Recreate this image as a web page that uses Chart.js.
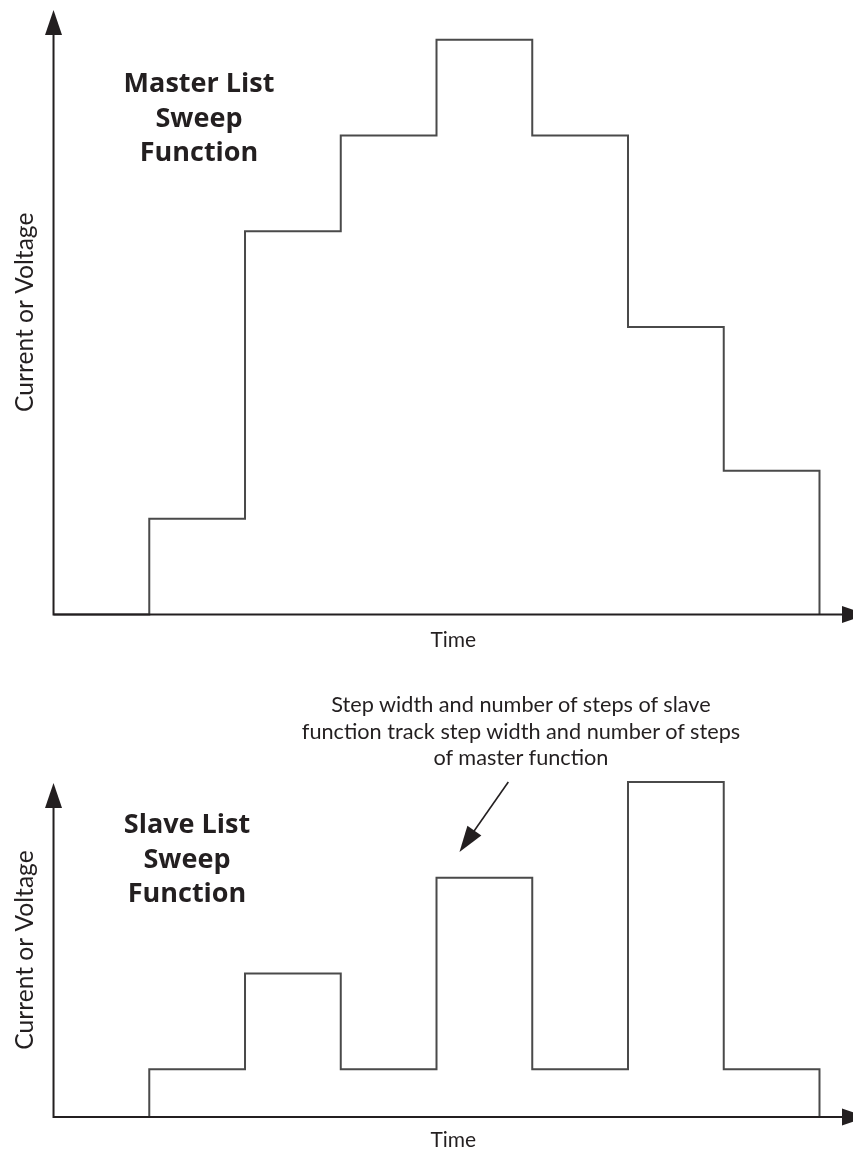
<!DOCTYPE html>
<html>
<head>
<meta charset="utf-8">
<script src="https://cdn.jsdelivr.net/npm/chart.js@4.4.1/dist/chart.umd.min.js"></script>
<style>
  html, body { margin: 0; padding: 0; background: #ffffff; }
  #wrap { position: relative; width: 853px; height: 1153px; overflow: hidden; }
  canvas { position: absolute; left: 0; }
  .lbl { position: absolute; font-family: Lato, "Open Sans", sans-serif; color: #231f20; text-align: center; white-space: nowrap; }
  .bold { font-family: "Open Sans", Lato, sans-serif; font-weight: 700; font-size: 27px; line-height: 34.5px; }
  .note { font-size: 21.7px; line-height: 26.5px; }
</style>
</head>
<body>
<div id="wrap">
  <canvas id="c1" width="853" height="680" style="top:0"></canvas>
  <canvas id="c2" width="853" height="473" style="top:680px"></canvas>
  <div class="lbl bold" style="left:99px; width:200px; top:65px;">Master List<br>Sweep<br>Function</div>
  <div class="lbl bold" style="left:87px; width:200px; top:806px;">Slave List<br>Sweep<br>Function</div>
  <div class="lbl note" style="left:271px; width:500px; top:691px;">Step width and number of steps of slave<br>function track step width and number of steps<br>of master function</div>
</div>
<script>
// ---- data ----
const timeSteps    = [0, 1, 2, 3, 4, 5, 6, 7, 8];
const masterLevels = [0, 1, 4, 5, 6, 5, 3, 1.5, 0];
const slaveLevels  = [0, 0.5, 1.5, 0.5, 2.5, 0.5, 3.5, 0.5, 0];
const xAxisMax = 8.35;
const masterYMax = 6.31;
const slaveYMax = 3.49;
// annotation arrow in slave-chart data units: [start, tip]
const noteArrowX = [4.75, 4.24];
const noteArrowY = [3.5, 2.77];

const INK = '#231f20';
const LINE = '#4a4a4a';

function drawHead(ctx, tx, ty, ang, len, half) {
  ctx.beginPath();
  ctx.moveTo(tx, ty);
  ctx.lineTo(tx - len * Math.cos(ang) + half * Math.sin(ang), ty - len * Math.sin(ang) - half * Math.cos(ang));
  ctx.lineTo(tx - len * Math.cos(ang) - half * Math.sin(ang), ty - len * Math.sin(ang) + half * Math.cos(ang));
  ctx.closePath();
  ctx.fill();
}

const axesArrows = {
  id: 'axesArrows',
  afterDatasetsDraw(chart) {
    const { ctx, chartArea: a } = chart;
    ctx.save();
    ctx.strokeStyle = INK;
    ctx.fillStyle = INK;
    ctx.lineWidth = 2;
    ctx.beginPath();
    ctx.moveTo(a.left, a.top + 20);
    ctx.lineTo(a.left, a.bottom);
    ctx.lineTo(a.right - 6, a.bottom);
    ctx.stroke();
    drawHead(ctx, a.left, a.top, -Math.PI / 2, 25, 8.5);
    drawHead(ctx, a.right + 14, a.bottom, 0, 25, 8.5);
    ctx.restore();
  }
};

const noteArrow = {
  id: 'noteArrow',
  afterDatasetsDraw(chart) {
    const { ctx, scales: { x, y } } = chart;
    const x0 = x.getPixelForValue(noteArrowX[0]), y0 = y.getPixelForValue(noteArrowY[0]);
    const x1 = x.getPixelForValue(noteArrowX[1]), y1 = y.getPixelForValue(noteArrowY[1]);
    const ang = Math.atan2(y1 - y0, x1 - x0);
    ctx.save();
    ctx.strokeStyle = INK;
    ctx.fillStyle = INK;
    ctx.lineWidth = 1.6;
    ctx.beginPath();
    ctx.moveTo(x0, y0);
    ctx.lineTo(x1 - 20 * Math.cos(ang), y1 - 20 * Math.sin(ang));
    ctx.stroke();
    drawHead(ctx, x1, y1, ang, 26, 8.5);
    ctx.restore();
  }
};

function makeChart(id, levels, yMax, padTop, xTitlePad, extraPlugins) {
  return new Chart(document.getElementById(id), {
    type: 'line',
    data: {
      datasets: [{
        data: timeSteps.map((t, i) => ({ x: t, y: levels[i] })),
        stepped: true,
        borderColor: LINE,
        borderWidth: 2,
        pointRadius: 0,
        fill: false,
        clip: false
      }]
    },
    options: {
      responsive: false,
      animation: false,
      events: [],
      layout: { padding: { top: padTop, right: 0, left: 0, bottom: 0 } },
      plugins: { legend: { display: false }, tooltip: { enabled: false } },
      scales: {
        x: {
          type: 'linear', min: 0, max: xAxisMax,
          grid: { display: false, drawTicks: false },
          border: { display: false },
          ticks: { display: false },
          title: { display: true, text: 'Time', color: INK,
                   font: { family: 'Lato', size: 21, lineHeight: 1.2 }, padding: xTitlePad }
        },
        y: {
          type: 'linear', min: 0, max: yMax,
          grid: { display: false, drawTicks: false },
          border: { display: false },
          ticks: { display: false },
          title: { display: true, text: 'Current or Voltage', color: INK,
                   font: { family: 'Lato', size: 24.6, lineHeight: 1.2 }, padding: { top: 10.25, bottom: 13.75 } }
        }
      }
    },
    plugins: [axesArrows].concat(extraPlugins)
  });
}

makeChart('c1', masterLevels, masterYMax, 10, { top: 12.9, bottom: 27.4 }, []);
makeChart('c2', slaveLevels, slaveYMax, 103, { top: 10.8, bottom: 0 }, [noteArrow]);
</script>
</body>
</html>
